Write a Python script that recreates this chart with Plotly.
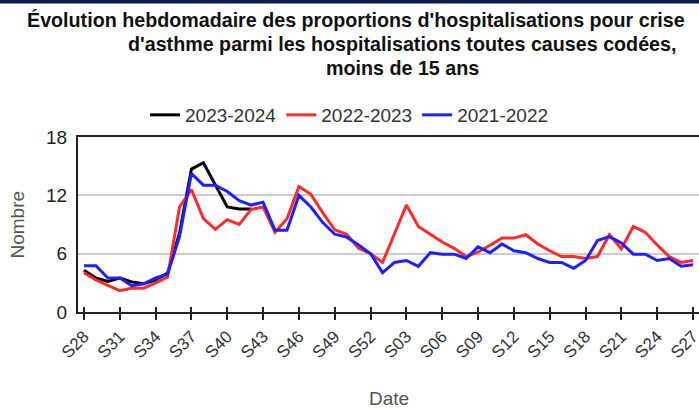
import plotly.graph_objects as go

# Week labels: S28 .. S52 then S01 .. S27
weeks = [f"S{w:02d}" for w in range(28, 53)] + [f"S{w:02d}" for w in range(1, 28)]
tick_weeks = weeks[::3]

season_2023_2024 = [4.3, 3.5, 3.15, 3.5, 3.1, 2.9, 3.3, 4.0, 8.1, 14.7, 15.35, 13.05,
                    10.8, 10.6, 10.6]

season_2022_2023 = [4.05, 3.3, 2.75, 2.2, 2.45, 2.45, 3.0, 3.6, 10.8, 12.6, 9.6, 8.5,
                    9.5, 9.0, 10.55, 10.8, 8.2, 9.6, 12.9, 12.1, 10.2, 8.45, 8.0, 6.55,
                    6.0, 5.1, 8.05, 11.0, 8.8, 8.0, 7.2, 6.55, 5.7, 6.15, 6.9, 7.6,
                    7.6, 7.95, 7.0, 6.3, 5.7, 5.7, 5.5, 5.7, 7.95, 6.5, 8.8, 8.2,
                    6.9, 5.7, 5.1, 5.3]

season_2021_2022 = [4.75, 4.75, 3.5, 3.5, 2.7, 2.9, 3.5, 3.9, 7.75, 14.25, 13.05, 13.05,
                    12.4, 11.45, 11.0, 11.3, 8.4, 8.4, 12.0, 10.8, 9.2, 8.0, 7.7, 6.9,
                    6.0, 4.05, 5.1, 5.3, 4.7, 6.1, 5.95, 5.95, 5.5, 6.7, 6.1, 7.0,
                    6.3, 6.1, 5.5, 5.1, 5.1, 4.5, 5.3, 7.35, 7.75, 7.1, 5.95, 5.95,
                    5.3, 5.5, 4.7, 4.85]

y_ticks = [0, 6, 12, 18]

series = [
    ("2023-2024", season_2023_2024, "#000000"),
    ("2022-2023", season_2022_2023, "#ff2b2b"),
    ("2021-2022", season_2021_2022, "#1f1fff"),
]

FONT = "Liberation Sans, Arial, sans-serif"

# position of each week on the x axis
week_pos = list(range(len(weeks)))
tick_pos = week_pos[::3]

fig = go.Figure()
for name, values, color in series:
    n = len(values)
    fig.add_trace(go.Scatter(
        x=week_pos[:n], y=values, name=name, mode="lines",
        customdata=weeks[:n],
        hovertemplate="%{customdata}: %{y}<extra>" + name + "</extra>",
        line=dict(color=color, width=3),
    ))

W, H = 699, 408
ML, MR, MT, MB = 78, 0, 137, 96
PW, PH = W - ML - MR, H - MT - MB


def px_x(px):
    return (px - ML) / PW


def px_y(py):
    return (H - MB - py) / PH


title_lines = [
    ("Évolution hebdomadaire des proportions d'hospitalisations pour crise", 356, 33),
    ("d'asthme parmi les hospitalisations toutes causes codées,", 402, 57),
    ("moins de 15 ans", 402, 81),
]
annotations = []
for text, cx, bottom in title_lines:
    annotations.append(dict(
        text=text, xref="paper", yref="paper", x=px_x(cx), y=px_y(bottom),
        xanchor="center", yanchor="bottom", showarrow=False,
        font=dict(family=FONT, size=19.7, color="#111111", weight="bold"),
    ))

annotations.append(dict(
    text="Nombre", xref="paper", yref="paper", x=px_x(17), y=0.5,
    xanchor="center", yanchor="middle", textangle=-90, showarrow=False,
    font=dict(family=FONT, size=19, color="#555555"),
))
annotations.append(dict(
    text="Date", xref="paper", yref="paper", x=px_x(389), y=px_y(398),
    xanchor="center", yanchor="middle", showarrow=False,
    font=dict(family=FONT, size=19, color="#555555"),
))

fig.update_layout(
    width=W, height=H,
    margin=dict(l=ML, r=MR, t=MT, b=MB, pad=0, autoexpand=False),
    paper_bgcolor="white", plot_bgcolor="white",
    font=dict(family=FONT, color="#333333"),
    showlegend=True,
    legend=dict(
        orientation="h", xref="container", x=0.5, xanchor="center",
        yref="container", y=1 - 115 / H, yanchor="middle",
        font=dict(family=FONT, size=19, color="#333333"),
        itemwidth=30, tracegroupgap=0,
    ),
    annotations=annotations,
    # dark band along the top edge of the page
    shapes=[dict(type="rect", xref="paper", yref="paper",
                 x0=px_x(0), x1=px_x(W), y0=px_y(3.5), y1=px_y(0),
                 fillcolor="#0d1b4c", line=dict(width=0), layer="above")],
)

fig.update_xaxes(
    range=[-0.5, len(weeks) - 0.5], automargin=False,
    tickmode="array", tickvals=tick_pos, ticktext=tick_weeks, tickangle=-45,
    ticklabeloverflow="allow",
    tickfont=dict(family=FONT, size=17, color="#333333"),
    ticks="outside", ticklen=6, tickwidth=2, tickcolor="#222222",
    minor=dict(tickmode="array", tickvals=[p + 0.001 for p in tick_pos],
               ticks="inside", ticklen=5, tickwidth=2, tickcolor="#222222",
               showgrid=False),
    showline=True, linecolor="#222222", linewidth=2, mirror=True,
    showgrid=False, zeroline=False,
)
fig.update_yaxes(
    range=[0, 18], tickvals=y_ticks, automargin=False,
    tickfont=dict(family=FONT, size=19, color="#222222"),
    ticks="", ticklabelstandoff=5,
    showline=True, linecolor="#222222", linewidth=2,
    showgrid=True, gridcolor="#cccccc", gridwidth=2, zeroline=False,
)

fig.write_html("out.html", config={"displayModeBar": False})
